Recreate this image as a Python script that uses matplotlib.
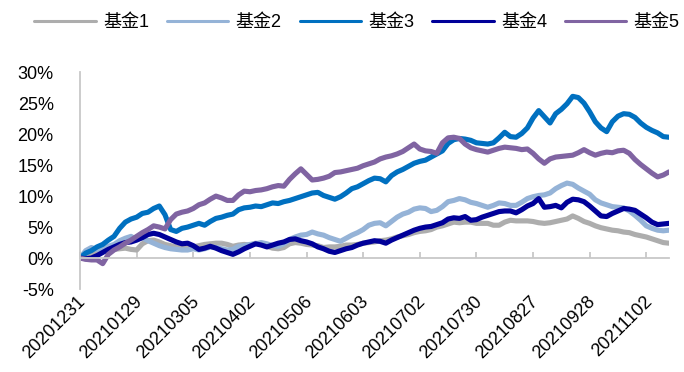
import matplotlib
matplotlib.use("Agg")
import matplotlib.pyplot as plt
import matplotlib.transforms as mtransforms
import numpy as np

plt.rcParams['font.family'] = ['Liberation Sans', 'Noto Sans CJK SC', 'DejaVu Sans']

tick_labels = ['20201231', '20210129', '20210305', '20210402', '20210506', '20210603',
               '20210702', '20210730', '20210827', '20210928', '20211102']
tick_step = 10  # points between labelled dates (one point per 2 trading days)

series_names = ['基金1', '基金2', '基金3', '基金4', '基金5']
colors = ['#ADADAD', '#95B3D7', '#0070C0', '#000099', '#8064A2']

fund1 = [0, 0.3, 0.8, 1.0, 1.1, 1.2, 1.4, 1.5, 1.6, 1.4,
         1.3, 2.3, 2.8, 2.9, 2.6, 2.2, 2.0, 1.8, 1.6, 1.6,
         1.8, 2.0, 2.2, 2.3, 2.4, 2.4, 2.2, 1.9, 2.1, 2.2,
         2.1, 2.4, 2.2, 1.9, 1.6, 1.5, 1.7, 2.3, 2.5, 2.4,
         2.2, 2.1, 2.0, 1.7, 1.8, 1.8, 1.9, 2.1, 2.1, 2.2,
         2.4, 2.5, 2.6, 2.8, 2.9, 3.1, 3.4, 3.6, 3.8, 4.1,
         4.3, 4.4, 4.6, 5.0, 5.2, 5.5, 5.8, 5.7, 5.8, 5.8,
         5.6, 5.6, 5.6, 5.3, 5.3, 5.8, 6.1, 6.0, 6.0, 6.0,
         5.9, 5.7, 5.6, 5.7, 5.9, 6.1, 6.3, 6.8, 6.4, 5.9,
         5.6, 5.2, 4.9, 4.7, 4.5, 4.4, 4.2, 4.1, 3.8, 3.6,
         3.4, 3.1, 2.8, 2.5, 2.4]

fund2 = [0, 1.2, 1.7, 1.4, 1.5, 1.9, 2.2, 2.8, 3.2, 3.5,
         3.0, 3.3, 2.8, 2.4, 2.0, 1.7, 1.5, 1.4, 1.3, 1.3,
         1.5, 1.3, 1.5, 1.8, 1.7, 1.5, 1.3, 1.4, 1.9, 2.0,
         2.2, 2.3, 2.5, 2.3, 2.0, 1.9, 2.3, 3.0, 3.4, 3.7,
         3.8, 4.2, 3.9, 3.7, 3.3, 3.0, 2.7, 3.2, 3.7, 4.1,
         4.6, 5.3, 5.6, 5.7, 5.2, 5.9, 6.6, 7.1, 7.4, 7.9,
         8.1, 8.0, 7.5, 7.7, 8.3, 9.1, 9.3, 9.6, 9.4, 9.0,
         8.8, 8.5, 8.2, 8.5, 8.9, 8.8, 8.5, 8.5, 9.0, 9.6,
         9.9, 10.1, 10.2, 10.5, 11.2, 11.7, 12.1, 11.9, 11.3, 10.8,
         10.3, 9.4, 8.9, 8.6, 8.3, 8.2, 8.1, 7.6, 6.9, 6.1,
         5.2, 4.8, 4.5, 4.4, 4.5]

fund3 = [0, 0.8, 1.2, 1.8, 2.2, 2.9, 3.5, 4.8, 5.8, 6.3,
         6.6, 7.2, 7.4, 8.0, 8.4, 7.0, 4.6, 4.3, 4.8, 5.0,
         5.3, 5.6, 5.3, 5.9, 6.4, 6.6, 6.9, 7.1, 7.8, 8.1,
         8.2, 8.4, 8.3, 8.6, 8.9, 8.8, 9.1, 9.3, 9.6, 9.9,
         10.2, 10.5, 10.6, 10.1, 9.8, 9.5, 9.9, 10.5, 11.2, 11.5,
         12.0, 12.5, 12.9, 12.8, 12.3, 13.3, 13.9, 14.3, 14.8, 15.3,
         15.6, 15.8, 16.3, 16.8, 17.3, 18.5, 19.1, 19.3, 19.2, 19.0,
         18.6, 18.5, 18.4, 18.6, 19.4, 20.3, 19.6, 19.5, 20.1, 21.0,
         22.6, 23.8, 22.8, 21.8, 23.3, 24.0, 24.9, 26.1, 25.9, 25.0,
         23.6, 22.0, 21.0, 20.4, 22.0, 22.9, 23.3, 23.2, 22.7, 21.8,
         21.1, 20.6, 20.2, 19.6, 19.5]

fund4 = [0, -0.1, 0.0, 0.4, 0.9, 1.4, 1.8, 2.2, 2.5, 2.6,
         2.9, 3.3, 3.8, 4.0, 3.8, 3.4, 3.0, 2.6, 2.3, 2.4,
         2.0, 1.4, 1.6, 1.9, 1.6, 1.2, 0.9, 0.6, 1.0, 1.5,
         1.9, 2.3, 2.1, 1.8, 2.1, 2.4, 2.6, 3.0, 3.1, 2.8,
         2.6, 2.3, 1.8, 1.5, 1.1, 0.9, 1.2, 1.5, 1.7, 2.1,
         2.4, 2.6, 2.8, 2.7, 2.4, 2.9, 3.3, 3.7, 4.1, 4.5,
         4.8, 5.0, 5.1, 5.4, 5.7, 6.3, 6.5, 6.4, 6.7, 6.1,
         6.2, 6.6, 6.9, 7.2, 7.5, 7.6, 7.6, 7.3, 7.8, 8.4,
         8.8, 9.6, 8.2, 8.3, 8.5, 8.1, 9.0, 9.5, 9.4, 9.1,
         8.4, 7.6, 6.8, 6.7, 7.2, 7.6, 8.0, 7.9, 7.7, 7.1,
         6.5, 5.8, 5.4, 5.5, 5.6]

fund5 = [0, -0.2, -0.3, -0.3, -0.9, 0.6, 1.3, 1.8, 2.4, 2.9,
         3.5, 4.1, 4.6, 5.2, 5.0, 4.7, 6.2, 7.1, 7.4, 7.6,
         8.0, 8.6, 8.9, 9.5, 10.0, 9.7, 9.3, 9.3, 10.2, 10.8,
         10.7, 10.9, 11.0, 11.2, 11.5, 11.7, 11.6, 12.7, 13.6, 14.4,
         13.5, 12.6, 12.7, 12.9, 13.2, 13.8, 13.9, 14.1, 14.3, 14.5,
         14.9, 15.2, 15.5, 16.0, 16.3, 16.5, 16.8, 17.2, 17.8, 18.4,
         17.6, 17.3, 17.2, 16.9, 18.6, 19.4, 19.5, 19.3, 18.4, 17.8,
         17.5, 17.3, 17.1, 17.4, 17.7, 17.9, 17.8, 17.7, 17.5, 17.6,
         16.9, 16.0, 15.3, 16.0, 16.3, 16.4, 16.5, 16.6, 17.0, 17.5,
         17.0, 16.6, 16.9, 17.1, 17.0, 17.3, 17.4, 16.9, 15.9, 15.1,
         14.4, 13.7, 13.1, 13.4, 13.9]

funds = [fund1, fund2, fund3, fund4, fund5]

fig = plt.figure(figsize=(6.84, 3.72), dpi=100)
ax = fig.add_axes([0.117, 0.223, 0.861, 0.583])

for vals, name, c in zip(funds, series_names, colors):
    x = np.arange(len(vals))
    ax.plot(x, vals, color=c, lw=3.7, label=name, solid_joinstyle='round',
            solid_capstyle='round')

n = len(fund1)
ax.set_xlim(0, n - 1)
ax.set_ylim(-5, 30)

axis_gray = '#C8C8C8'
for s in ['top', 'right']:
    ax.spines[s].set_visible(False)
ax.spines['left'].set_color(axis_gray)
ax.spines['left'].set_linewidth(1.3)
ax.spines['bottom'].set_position(('data', 0))
ax.spines['bottom'].set_color(axis_gray)
ax.spines['bottom'].set_linewidth(1.3)

yt = np.arange(-5, 31, 5)
ax.set_yticks(yt)
ax.set_yticklabels([f'{v}%' for v in yt], fontsize=13)
ax.tick_params(axis='y', length=0, pad=19)

xt = np.arange(0, tick_step * len(tick_labels), tick_step)
ax.set_xticks(xt)
ax.set_xticklabels([])
ax.tick_params(axis='x', direction='in', length=4, width=1.3, color=axis_gray)

trans = mtransforms.offset_copy(ax.get_xaxis_transform(), fig=fig, x=3, y=-10, units='dots')
for pos, lab in zip(xt, tick_labels):
    ax.text(pos, 0, lab, transform=trans, rotation=45, ha='right', va='center',
            rotation_mode='anchor', fontsize=13)

leg = fig.legend(loc='upper center', bbox_to_anchor=(0.522, 1.005), ncol=5, frameon=False,
                 fontsize=13, handlelength=3.4, handletextpad=0.4, columnspacing=1.0)
for h in leg.get_lines():
    h.set_linewidth(2.2)

fig.savefig('out.png', dpi=100)
